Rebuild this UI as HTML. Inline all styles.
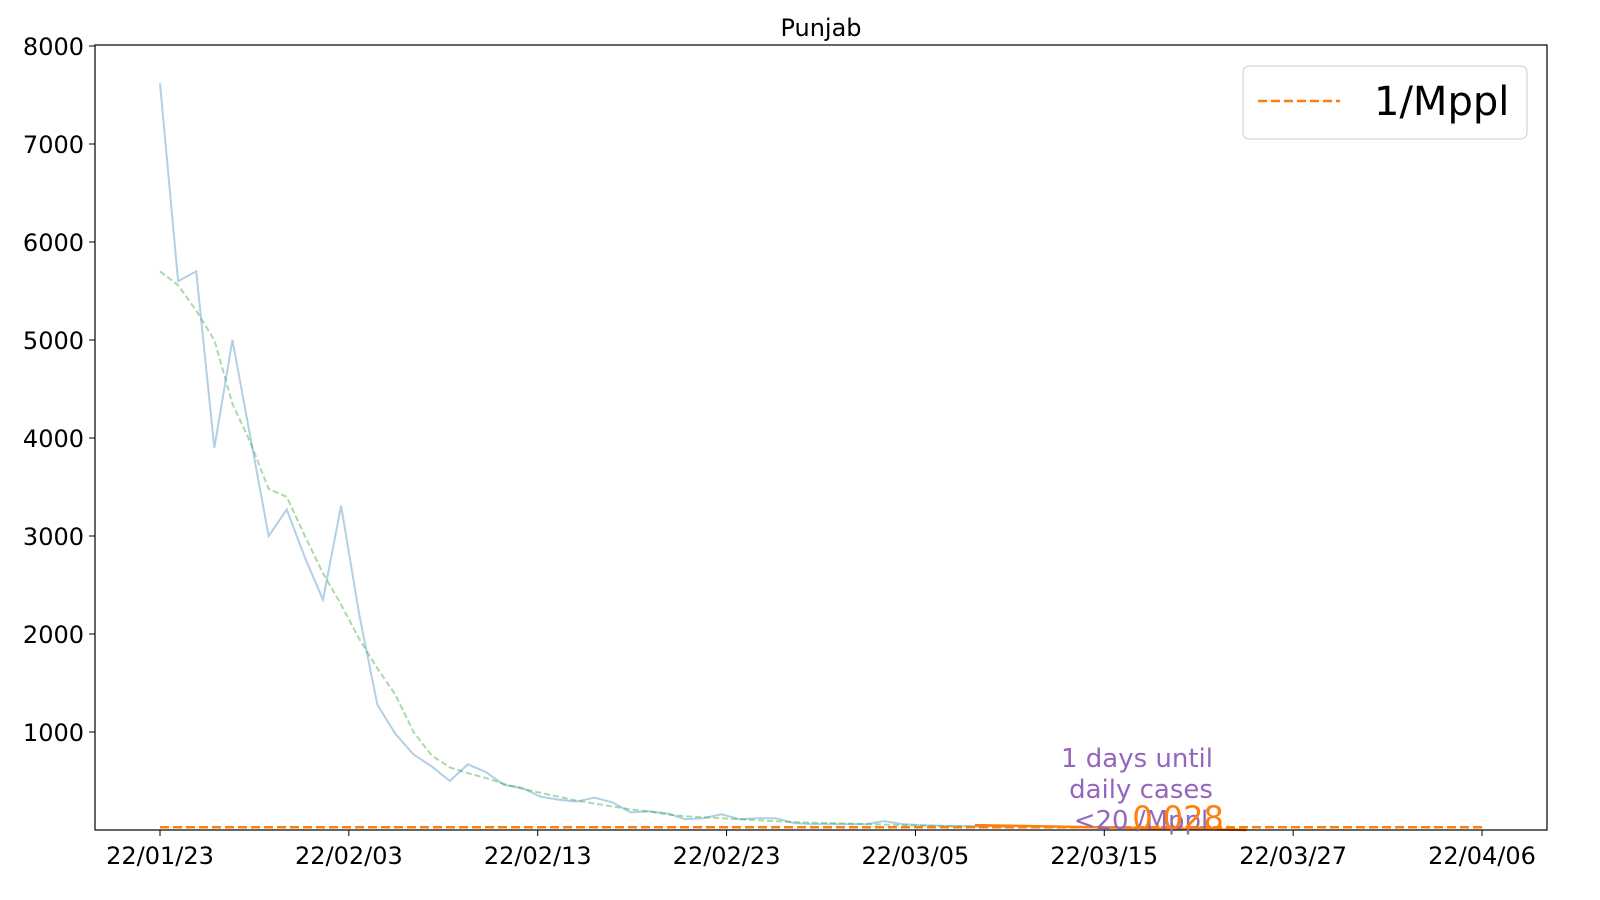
<!DOCTYPE html>
<html><head><meta charset="utf-8"><style>body{margin:0;background:#fff}svg{display:block;font-family:"DejaVu Sans","Liberation Sans",sans-serif}</style></head>
<body>
<svg id="chart" width="1600" height="900">
<rect width="1600" height="900" fill="#fff"/>
<text x="821" y="36" font-size="24" text-anchor="middle">Punjab</text>
<g id="marks"></g>
<g id="axes"></g>
<rect x="95" y="45" width="1452" height="785" fill="none" stroke="#000" stroke-width="1.2"/>
<g>
<rect x="1243" y="66" width="284" height="73" rx="6" fill="#fff" stroke="#ccc"/>
<line x1="1258" y1="101" x2="1340" y2="101" stroke="#ff7f0e" stroke-width="2.5" stroke-dasharray="9,4"/>
<text x="1374" y="115" font-size="40">1/Mppl</text>
</g>
<g font-size="26" text-anchor="middle">
<text x="1137" y="767" fill="#9467bd">1 days until</text>
<text x="1141" y="798" fill="#9467bd">daily cases</text>
<text x="1141" y="829" fill="#9467bd">&lt;20 /Mppl</text>
<text x="1178" y="829" fill="#ff7f0e" font-size="32">0.028</text>
</g>
</svg>
<script>
const blueVals=[7620,5600,5700,3900,5000,4000,3000,3270,2780,2350,3310,2200,1280,980,770,650,500,670,590,460,430,340,310,290,330,280,180,190,170,110,120,160,110,120,120,70,60,60,60,60,90,60,50,45,40,40,40,40];
const greenVals=[5700,5560,5300,5000,4350,3950,3480,3400,3000,2620,2300,1950,1650,1380,1000,760,640,580,530,470,420,380,340,300,270,240,210,190,160,140,130,120,110,100,90,80,75,70,65,60,55,50,45,40,38,35,33,30];
const projVals=[50,0];
const projIdx=[45,60];
const thresholdVal=28;
const yTicks=[1000,2000,3000,4000,5000,6000,7000,8000];
const xTickLabels=['22/01/23','22/02/03','22/02/13','22/02/23','22/03/05','22/03/15','22/03/27','22/04/06'];
const totalDays=73;
const X=d=>160+d*(1322/totalDays);
const Y=v=>830-v*0.098;
const ns='http://www.w3.org/2000/svg';
const marks=document.getElementById('marks'),axes=document.getElementById('axes');
function el(t,a,p){const e=document.createElementNS(ns,t);for(const k in a)e.setAttribute(k,a[k]);p.appendChild(e);return e;}
function pts(vals,idx){return vals.map((v,i)=>X(idx?idx[i]:i)+','+Y(v)).join(' ');}
const b=el('polyline',{points:pts(blueVals),fill:'none',stroke:'#1f77b4','stroke-opacity':0.35,'stroke-width':2},marks);


const g=el('polyline',{points:pts(greenVals),fill:'none',stroke:'#2ca02c','stroke-opacity':0.4,'stroke-width':2,'stroke-dasharray':'6,3'},marks);


const p=el('polyline',{points:pts(projVals,projIdx),fill:'none',stroke:'#ff7f0e','stroke-width':2.5},marks);


const h=el('line',{x1:X(0),x2:X(totalDays),y1:Y(thresholdVal),y2:Y(thresholdVal),stroke:'#ff7f0e','stroke-width':2.5,'stroke-dasharray':'9,4'},marks);


yTicks.forEach(v=>{
 el('line',{x1:89,x2:95,y1:Y(v),y2:Y(v),stroke:'#000'},axes);
 const t=el('text',{x:84,y:Y(v)+9,'font-size':24,'text-anchor':'end'},axes);t.textContent=v;
 
 
});
xTickLabels.forEach((s,i)=>{
 const x=X(i*totalDays/(xTickLabels.length-1));
 el('line',{x1:x,x2:x,y1:830,y2:836,stroke:'#000'},axes);
 const t=el('text',{x:x,y:864,'font-size':24,'text-anchor':'middle'},axes);t.textContent=s;
 
 
});
</script>
</body></html>
